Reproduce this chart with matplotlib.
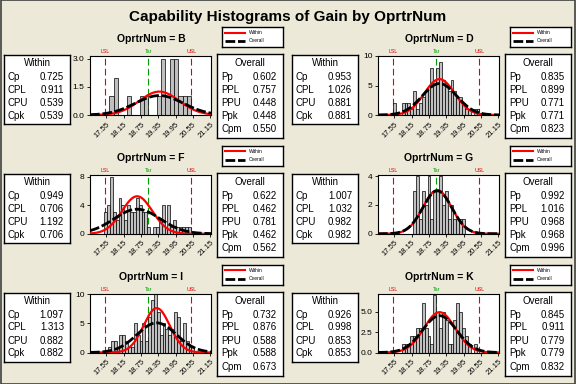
import numpy as np
import matplotlib
matplotlib.use("Agg")
import matplotlib.pyplot as plt
from matplotlib.patches import Rectangle
from matplotlib.lines import Line2D
from matplotlib.transforms import blended_transform_factory

W, H = 576, 384
BG = "#ECE9D8"

LSL, TARGET, USL = 17.5, 19.0, 20.5

operators = ["B", "D", "F", "G", "I", "K"]

# within capability (Cp, CPL, CPU, Cpk)
within_cp = [0.725, 0.953, 0.949, 1.007, 1.097, 0.926]
within_cpl = [0.911, 1.026, 0.706, 1.032, 1.313, 0.998]
within_cpu = [0.539, 0.881, 1.192, 0.982, 0.882, 0.853]
within_cpk = [0.539, 0.881, 0.706, 0.982, 0.882, 0.853]

# overall capability (Pp, PPL, PPU, Ppk, Cpm)
overall_pp = [0.602, 0.835, 0.622, 0.992, 0.732, 0.845]
overall_ppl = [0.757, 0.899, 0.462, 1.016, 0.876, 0.911]
overall_ppu = [0.448, 0.771, 0.781, 0.968, 0.588, 0.779]
overall_ppk = [0.448, 0.771, 0.462, 0.968, 0.588, 0.779]
overall_cpm = [0.550, 0.823, 0.562, 0.996, 0.673, 0.832]

# histograms: left edge of first bin, bin width, counts
bin_start = [17.65, 17.5, 17.47, 18.2, 17.6, 17.8]
bin_width = [0.15, 0.1, 0.1, 0.1, 0.1, 0.1]
counts_B = [1, 2, 0, 0, 1, 0, 0, 1, 1, 0, 0, 1, 3, 1, 3, 3, 1, 1, 1]
counts_D = [2, 0, 0, 2, 2, 2, 1, 4, 1, 2, 3, 4, 5, 8, 6, 8, 9, 6, 5, 4,
            6, 4, 3, 3, 2, 1, 1, 0, 1, 1]
counts_F = [3, 4, 8, 3, 2, 5, 4, 2, 4, 3, 3, 5, 4, 3, 3, 1, 0, 1, 1, 2,
            4, 1, 4, 1, 2, 1, 1, 1, 1, 1]
counts_G = [3, 4, 1, 3, 2, 4, 1, 3, 3, 4, 2, 3, 1, 2, 1, 1, 1, 1]
counts_I = [1, 2, 2, 1, 3, 3, 2, 1, 1, 5, 3, 2, 5, 2, 6, 9, 10, 7, 3, 5,
            4, 3, 4, 7, 6, 2, 5, 2, 1, 1]
counts_K = [1, 1, 1, 2, 2, 3, 3, 6, 3, 2, 1, 7, 5, 3, 5, 4, 1, 1, 4, 6,
            5, 3, 2, 1, 0, 1]
all_counts = [counts_B, counts_D, counts_F, counts_G, counts_I, counts_K]

# area under fitted curves (n * bin width), estimated from curve heights
curve_scale = [2.16, 8.0, 6.96, 3.77, 8.68, 6.66]

y_max = [3.15, 10.0, 8.3, 4.1, 10.1, 7.2]
y_ticks = [[0, 1.5, 3.0], [0, 5, 10], [0, 4, 8], [0, 2, 4], [0, 5, 10], [0, 2.5, 5.0]]
y_fmt = ["{:.1f}", "{:.0f}", "{:.0f}", "{:.0f}", "{:.0f}", "{:.1f}"]
x_ticks = [17.55, 18.15, 18.75, 19.35, 19.95, 20.55, 21.15]
x_lim = (16.98, 21.18)

plt.rcParams["font.family"] = ["Liberation Sans", "DejaVu Sans"]

fig = plt.figure(figsize=(W / 100, H / 100), dpi=100)
fig.patch.set_facecolor(BG)


def px_axes(x0, y0, x1, y1):
    return fig.add_axes([x0 / W, 1 - y1 / H, (x1 - x0) / W, (y1 - y0) / H])


def box(x0, y0, x1, y1):
    ax = px_axes(x0, y0, x1, y1)
    ax.set_xticks([])
    ax.set_yticks([])
    ax.set_xlim(x0, x1)
    ax.set_ylim(y1, y0)
    ax.set_facecolor("white")
    for s in ax.spines.values():
        s.set_linewidth(1.0)
    return ax


def normal(x, mu, sd, scale):
    return scale * np.exp(-0.5 * ((x - mu) / sd) ** 2) / (sd * np.sqrt(2 * np.pi))


fig.text(0.5, 1 - 17 / H, "Capability Histograms of Gain by OprtrNum",
         ha="center", va="center", fontsize=11, fontweight="bold")

for i, op in enumerate(operators):
    col, row = i % 2, i // 2
    dx = 288 * col
    dy = 118.75 * row

    fig.text((151 + dx) / W, 1 - (39 + dy) / H, f"OprtrNum = {op}",
             ha="center", va="center", fontsize=7.5, fontweight="bold")

    # histogram
    ax = px_axes(90 + dx, 56 + dy, 211 + dx, 115 + dy)
    counts = np.array(all_counts[i])
    w = bin_width[i]
    centers = bin_start[i] + w / 2 + w * np.arange(len(counts))
    ax.bar(centers, counts, width=w, color="#C0C0C0", edgecolor="black",
           linewidth=0.5, zorder=2)

    sd_w = (USL - LSL) / (6 * within_cp[i])
    sd_o = (USL - LSL) / (6 * overall_pp[i])
    mu = LSL + (USL - LSL) * within_cpl[i] / (within_cpl[i] + within_cpu[i])
    xs = np.linspace(x_lim[0], x_lim[1], 400)
    ax.plot(xs, normal(xs, mu, sd_w, curve_scale[i]), color="#FF0000", lw=1.6, zorder=3)
    ax.plot(xs, normal(xs, mu, sd_o, curve_scale[i]), color="black", lw=2.0,
            dashes=(3.5, 1.0), zorder=4)

    for xv, c, lab in [(LSL, "#E00000", "LSL"), (TARGET, "#00A000", "Tar"), (USL, "#E00000", "USL")]:
        ax.axvline(xv, color=c, lw=0.8, dashes=(6, 3), zorder=1)
        tr = blended_transform_factory(ax.transData, ax.transAxes)
        ax.text(xv, 1.03, lab, transform=tr, ha="center", va="bottom",
                fontsize=3.8, color=c)

    ax.set_xlim(*x_lim)
    ax.set_ylim(0, y_max[i])
    ax.set_xticks(x_ticks)
    ax.set_xticklabels([f"{t:.2f}" for t in x_ticks], rotation=45, ha="right",
                       rotation_mode="anchor", fontsize=5.5)
    ax.set_yticks(y_ticks[i])
    ax.set_yticklabels([y_fmt[i].format(t) for t in y_ticks[i]], fontsize=6)
    ax.tick_params(length=2.5, width=0.6, pad=1.5)
    for s in ax.spines.values():
        s.set_linewidth(0.8)

    # within table
    tb = box(4 + dx, 55 + dy, 70 + dx, 124 + dy)
    tb.text(37 + dx, 63 + dy, "Within", ha="center", va="center", fontsize=7)
    rows = [("Cp", within_cp[i]), ("CPL", within_cpl[i]),
            ("CPU", within_cpu[i]), ("Cpk", within_cpk[i])]
    for k, (lab, val) in enumerate(rows):
        yy = 77 + dy + 13 * k
        tb.text(8 + dx, yy, lab, ha="left", va="center", fontsize=7)
        tb.text(64 + dx, yy, f"{val:.3f}", ha="right", va="center", fontsize=7)

    # overall table
    ob = box(217 + dx, 54 + dy, 283 + dx, 138 + dy)
    ob.text(250 + dx, 63 + dy, "Overall", ha="center", va="center", fontsize=7)
    rows = [("Pp", overall_pp[i]), ("PPL", overall_ppl[i]), ("PPU", overall_ppu[i]),
            ("Ppk", overall_ppk[i]), ("Cpm", overall_cpm[i])]
    for k, (lab, val) in enumerate(rows):
        yy = 77 + dy + 13 * k
        ob.text(221 + dx, yy, lab, ha="left", va="center", fontsize=7)
        ob.text(277 + dx, yy, f"{val:.3f}", ha="right", va="center", fontsize=7)

    # legend
    lg = box(222 + dx, 27 + dy, 283 + dx, 47 + dy)
    lg.add_line(Line2D([225 + dx, 245 + dx], [32.5 + dy, 32.5 + dy], color="#FF0000", lw=1.5))
    lg.add_line(Line2D([225 + dx, 245 + dx], [41 + dy, 41 + dy], color="black", lw=2.0,
                       dashes=(3.5, 1.0)))
    lg.text(249 + dx, 32.5 + dy, "Within", ha="left", va="center", fontsize=3.5)
    lg.text(249 + dx, 41 + dy, "Overall", ha="left", va="center", fontsize=3.5)

fig.patches.append(Rectangle((0.001, 0.001), 0.998, 0.998, transform=fig.transFigure,
                             fill=False, edgecolor="#404040", lw=1.2))

fig.savefig("out.png", dpi=100, facecolor=BG)
